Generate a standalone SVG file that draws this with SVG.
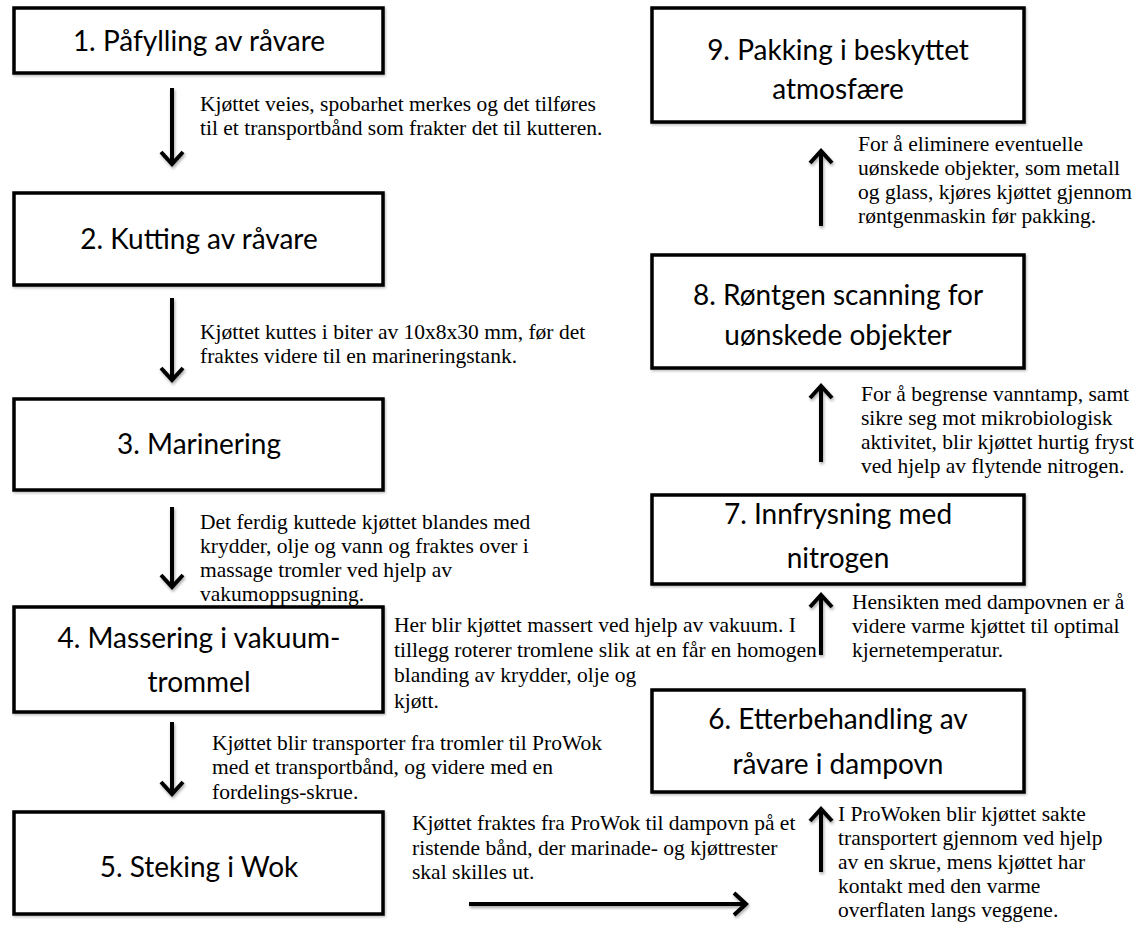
<svg xmlns="http://www.w3.org/2000/svg" width="1145" height="930" viewBox="0 0 1145 930">
<style>
.box{fill:#fff;stroke:#000;stroke-width:3.5}
.lbl{font-family:Lato,"Open Sans","Liberation Sans",sans-serif;font-size:28px;fill:#000;text-anchor:middle}
.note{font-family:"Liberation Serif","Times New Roman",serif;font-size:21.5px;fill:#000}
.arr{stroke:#000;stroke-width:4;fill:none}
</style>
<defs>
<filter id="sh" x="-50%" y="-50%" width="200%" height="200%">
<feDropShadow dx="1" dy="2" stdDeviation="1.5" flood-color="#000" flood-opacity="0.35"/>
</filter>
<filter id="bsh" x="-10%" y="-10%" width="120%" height="130%">
<feDropShadow dx="1" dy="1.5" stdDeviation="1" flood-color="#000" flood-opacity="0.25"/>
</filter>
<marker id="ah" markerUnits="userSpaceOnUse" markerWidth="24" markerHeight="32" viewBox="-17 -16 20 32" refX="0" refY="0" orient="auto">
<path d="M-12,-11 L0,0 L-12,11" fill="none" stroke="#000" stroke-width="4"/>
</marker>
</defs>

<g id="n1"><rect class="box" filter="url(#bsh)" x="14" y="8" width="369" height="65"/><text class="lbl" x="199" y="51">1. Påfylling av råvare</text></g>
<g id="n2"><rect class="box" filter="url(#bsh)" x="14" y="193" width="369" height="92"/><text class="lbl" x="199" y="249">2. Kutting av råvare</text></g>
<g id="n3"><rect class="box" filter="url(#bsh)" x="14" y="399" width="369" height="91"/><text class="lbl" x="199" y="454">3. Marinering</text></g>
<g id="n4"><rect class="box" filter="url(#bsh)" x="14" y="607" width="369" height="105"/><text class="lbl" x="199" y="648">4. Massering i vakuum-</text><text class="lbl" x="199" y="692">trommel</text></g>
<g id="n5"><rect class="box" filter="url(#bsh)" x="14" y="812" width="369" height="102"/><text class="lbl" x="199" y="877">5. Steking i Wok</text></g>
<g id="n6"><rect class="box" filter="url(#bsh)" x="652" y="690" width="372" height="102"/><text class="lbl" x="838" y="729">6. Etterbehandling av</text><text class="lbl" x="838" y="774">råvare i dampovn</text></g>
<g id="n7"><rect class="box" filter="url(#bsh)" x="652" y="495" width="372" height="89"/><text class="lbl" x="838" y="524">7. Innfrysning med</text><text class="lbl" x="838" y="568">nitrogen</text></g>
<g id="n8"><rect class="box" filter="url(#bsh)" x="652" y="255" width="372" height="113"/><text class="lbl" x="838" y="305">8. Røntgen scanning for</text><text class="lbl" x="838" y="345">uønskede objekter</text></g>
<g id="n9"><rect class="box" filter="url(#bsh)" x="652" y="8" width="372" height="114"/><text class="lbl" x="838" y="60">9. Pakking i beskyttet</text><text class="lbl" x="838" y="99">atmosfære</text></g>

<g id="connectors" filter="url(#sh)">
<line class="arr" x1="172" y1="88" x2="172" y2="164" marker-end="url(#ah)"/>
<line class="arr" x1="172" y1="298" x2="172" y2="380" marker-end="url(#ah)"/>
<line class="arr" x1="172" y1="507" x2="172" y2="587" marker-end="url(#ah)"/>
<line class="arr" x1="172" y1="722" x2="172" y2="794" marker-end="url(#ah)"/>
<line class="arr" x1="469" y1="904" x2="746" y2="904" marker-end="url(#ah)"/>
<line class="arr" x1="821" y1="872" x2="821" y2="809" marker-end="url(#ah)"/>
<line class="arr" x1="821" y1="655" x2="821" y2="595" marker-end="url(#ah)"/>
<line class="arr" x1="821" y1="462" x2="821" y2="386" marker-end="url(#ah)"/>
<line class="arr" x1="821" y1="226" x2="821" y2="151" marker-end="url(#ah)"/>
</g>

<g id="notes">
<text class="note" x="200" y="111">Kjøttet veies, spobarhet merkes og det tilføres</text>
<text class="note" x="200" y="135">til et transportbånd som frakter det til kutteren.</text>
<text class="note" x="200" y="339">Kjøttet kuttes i  biter av 10x8x30 mm, før det</text>
<text class="note" x="200" y="363">fraktes videre til en marineringstank.</text>
<text class="note" x="200" y="529">Det ferdig kuttede kjøttet blandes med</text>
<text class="note" x="200" y="553">krydder, olje og vann og fraktes over i</text>
<text class="note" x="200" y="577">massage tromler ved hjelp av</text>
<text class="note" x="200" y="601">vakumoppsugning.</text>
<text class="note" x="394" y="632" font-size="21">Her blir kjøttet massert ved hjelp av vakuum. I</text>
<text class="note" x="394" y="657" font-size="21">tillegg roterer tromlene slik at en får en homogen</text>
<text class="note" x="394" y="682" font-size="21">blanding av  krydder, olje og</text>
<text class="note" x="394" y="708" font-size="21">kjøtt.</text>
<text class="note" x="212" y="750">Kjøttet blir transporter fra tromler til ProWok</text>
<text class="note" x="212" y="774">med  et transportbånd, og videre med en</text>
<text class="note" x="212" y="799">fordelings-skrue.</text>
<text class="note" x="412" y="830">Kjøttet fraktes fra ProWok til dampovn på et</text>
<text class="note" x="412" y="855">ristende bånd, der marinade- og kjøttrester</text>
<text class="note" x="412" y="879">skal skilles ut.</text>
<text class="note" x="838" y="821">I ProWoken blir kjøttet sakte</text>
<text class="note" x="838" y="845">transportert gjennom ved hjelp</text>
<text class="note" x="838" y="869">av en skrue, mens kjøttet har</text>
<text class="note" x="838" y="893">kontakt med den varme</text>
<text class="note" x="838" y="917">overflaten langs veggene.</text>
<text class="note" x="852" y="609">Hensikten med dampovnen er å</text>
<text class="note" x="852" y="633">videre varme kjøttet til optimal</text>
<text class="note" x="852" y="657">kjernetemperatur.</text>
<text class="note" x="861" y="401">For å begrense vanntamp, samt</text>
<text class="note" x="861" y="425">sikre seg mot mikrobiologisk</text>
<text class="note" x="861" y="449">aktivitet, blir kjøttet hurtig fryst</text>
<text class="note" x="861" y="473">ved hjelp av flytende nitrogen.</text>
<text class="note" x="858" y="151">For å eliminere eventuelle</text>
<text class="note" x="858" y="175">uønskede objekter, som metall</text>
<text class="note" x="858" y="199">og glass, kjøres kjøttet gjennom</text>
<text class="note" x="858" y="223">røntgenmaskin før pakking.</text>
</g>
</svg>
